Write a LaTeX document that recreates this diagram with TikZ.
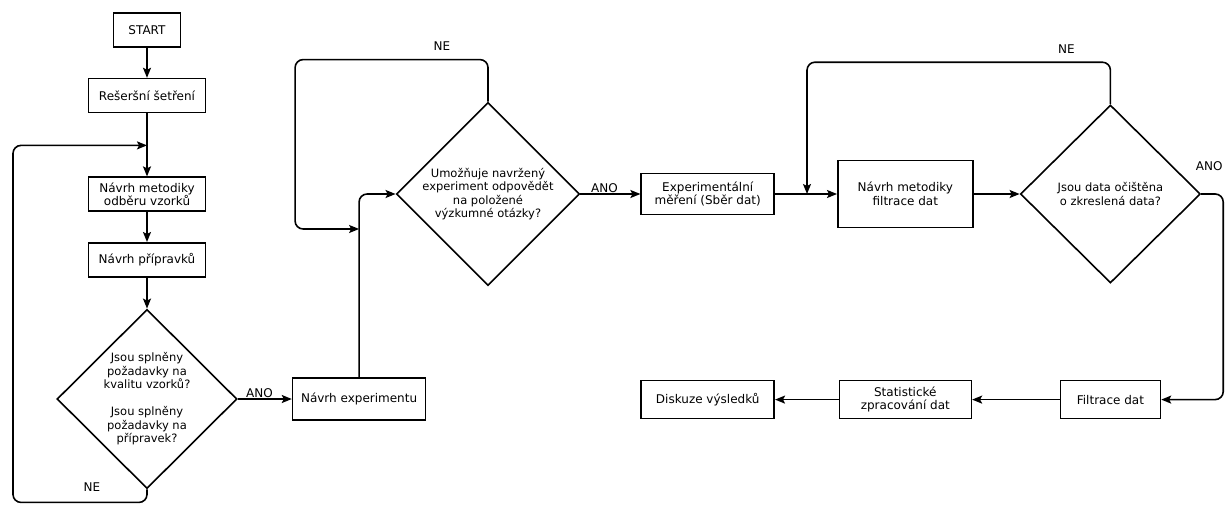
\documentclass[tikz,border=0pt]{standalone}
\usepackage{fontspec}
\setmainfont{DejaVu Sans}
\usepackage{tikz}
\usetikzlibrary{arrows.meta}
\usetikzlibrary{positioning}
\usetikzlibrary{shapes.geometric}
\tikzset{
    block/.style={
           rectangle,
           draw=black, line width=1.6pt,
           minimum height=34pt,
           inner sep=2pt,
           align=center,
           font=\fontsize{12}{13.5}\selectfont,
           },
    decision/.style={
           diamond,
           draw=black, line width=1.6pt,
           minimum width=180pt, minimum height=178pt,
           inner sep=0pt,
           align=center,
           font=\fontsize{11.5}{13.5}\selectfont,
           },
    frameless/.style={
           %rectangle,
           %draw=black,
           inner sep=1pt,
           font=\fontsize{12}{13.5}\selectfont,
           },
    conn/.style={-{Stealth[length=10pt, width=8pt, inset=2pt]}, line width=1.6pt},
}

\begin{document}
\begin{tikzpicture}[node distance=32pt]
	\useasboundingbox (0,0) rectangle (1227pt,-506pt);

	% left column
	\node[block, minimum width=67pt] (start) at (147pt,-30pt) {START};
	\node[block, minimum width=117pt, below=30pt of start] (res) {Rešeršní šetření};
	\node[block, minimum width=117pt, below=63pt of res] (odb) {Návrh metodiky\\odběru vzorků};
	\node[block, minimum width=117pt, below=30pt of odb] (prip) {Návrh přípravků};
	\node[decision, below=31pt of prip] (dia1) {Jsou splněny\\požadavky na\\kvalitu vzorků?\\[13.5pt]Jsou splněny\\požadavky na\\přípravek?};

	\node[block, minimum width=133pt, minimum height=42pt, right=54pt of dia1] (exper) {Návrh experimentu};

	% upper row
	\node[decision] (dia2) at (488pt,-194pt) {Umožňuje navržený\\experiment odpovědět\\na položené\\výzkumné otázky?};
	\node[block, minimum width=133pt, minimum height=41pt, right=60pt of dia2] (meas) {Experimentální\\měření (Sběr dat)};
	\node[block, minimum width=135pt, minimum height=67pt, right=62pt of meas] (filt) {Návrh metodiky\\filtrace dat};
	\node[decision, right=46pt of filt] (dia3) {Jsou data očištěna\\o zkreslená data?};

	% lower row
	\node[block, minimum width=100pt, minimum height=38pt, below=96pt of dia3] (fdat) {Filtrace dat};
	\node[block, minimum width=132pt, minimum height=38pt] (stat) at (filt |- fdat) {Statistické\\zpracování dat};
	\node[block, minimum width=133pt, minimum height=38pt] (disk) at (meas |- fdat) {Diskuze výsledků};

	% join points
	\coordinate[below=32pt of res] (j1);
	\coordinate (j2) at ([yshift=-35pt]dia2.west -| exper.north);
	\coordinate[right=32pt of meas] (j3);

	\path[conn]	(start) edge (res)
			(j1) edge (odb)
			(odb) edge (prip)
			(prip) edge (dia1)
			(dia1) edge node[frameless, above, pos=0.4] {ANO} (exper)
			(dia2) edge node[frameless, above, pos=0.4] {ANO} (meas)
			(j3) edge (filt)
			(filt) edge (dia3)
			(fdat) edge (stat)
			(stat) edge (disk);
	\path[line width=1.6pt]	(res) edge (j1)
				(meas) edge (j3);

	% loops
	\draw[conn, rounded corners=8pt] (dia1.south) -- ++(0,-13pt) -| ([xshift=-134pt]j1) -- (j1);
	\node[frameless] at ([xshift=-55pt, yshift=2pt]dia1.south) {NE};

	\draw[conn, rounded corners=8pt] (exper.north) |- (dia2.west);
	\draw[conn, rounded corners=8pt] (dia2.north) -- ++(0,42pt) -| ([xshift=-64pt]j2) -- (j2);
	\node[frameless] at ([xshift=-46pt, yshift=55pt]dia2.north) {NE};

	\draw[conn, rounded corners=8pt] (dia3.north) -- ++(0,42pt) -| (j3);
	\node[frameless] at ([xshift=-44pt, yshift=55pt]dia3.north) {NE};

	\draw[conn, rounded corners=8pt] (dia3.east) -- ++(22pt,0) |- (fdat.east);
	\node[frameless] at ([xshift=8pt, yshift=28pt]dia3.east) {ANO};

\end{tikzpicture}
\end{document}
